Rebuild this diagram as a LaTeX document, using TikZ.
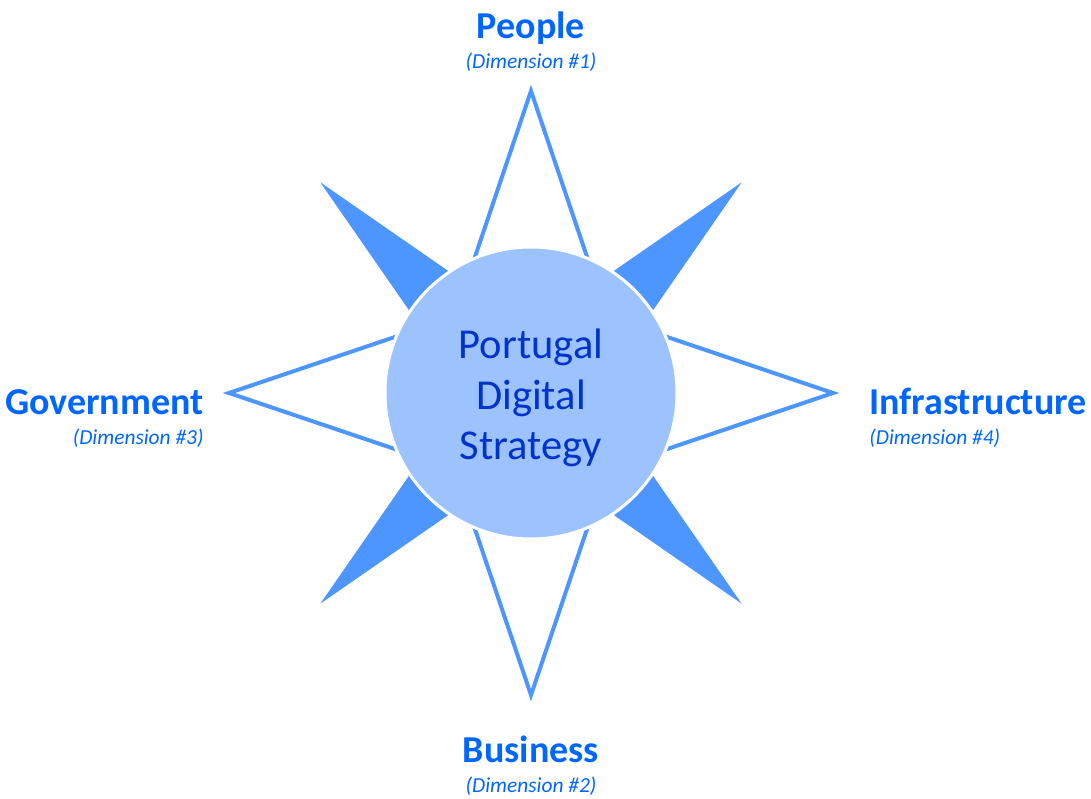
\documentclass[tikz,border=0pt]{standalone}
\usepackage{fontspec}
\setmainfont{Carlito}
\usepackage{tikz}
\definecolor{rayblue}{RGB}{77,150,255}
\definecolor{corefill}{RGB}{157,195,255}
\definecolor{coretext}{RGB}{0,51,204}
\definecolor{dimblue}{RGB}{0,102,255}

\begin{document}
\begin{tikzpicture}[x=0.5pt, y=0.5pt,
    dimtitle/.style={font=\fontsize{19}{21}\selectfont\bfseries, text=dimblue, inner sep=0pt},
    dimsub/.style={font=\fontsize{10.7}{12}\selectfont\itshape, text=dimblue, inner sep=0pt}]
    % Page size
    \useasboundingbox (-531,-405) rectangle (560,393);

    % Outlined kites (four dimensions)
    \foreach \a in {0,90,180,270}
        \draw[rayblue, line width=2pt, fill=white] (\a:302) -- (\a+90:102) -- (\a-90:102) -- cycle;

    % Filled spikes in between
    \foreach \a in {45,135,225,315}
        \fill[rayblue] (\a:298) -- (\a+90:54) -- (\a-90:54) -- cycle;

    % Central circle
    \node[circle, minimum size=146pt, fill=corefill, draw=white, line width=1.5pt,
          text=coretext, align=center, font=\fontsize{21.3}{25.25}\selectfont] (core) at (0,0)
        {\raisebox{-2.5pt}[\height][\depth]{\parbox{100pt}{\centering Portugal\\Digital\\Strategy}}};

    % Dimension labels
    \node[dimtitle, anchor=base] (people) at (0,354) {People};
    \node[dimsub, anchor=base] (people sub) at ([yshift=-15pt]people.base) {(Dimension \#1)};

    \node[dimtitle, anchor=base] (business) at (0,-369) {Business};
    \node[dimsub, anchor=base] (business sub) at ([yshift=-15pt]business.base) {(Dimension \#2)};

    \node[dimtitle, anchor=base east] (government) at (-327,-21) {Government};
    \node[dimsub, anchor=base east] (government sub) at ([yshift=-15pt]government.base east) {(Dimension \#3)};

    \node[dimtitle, anchor=base west] (infrastructure) at (338,-21) {Infrastructure};
    \node[dimsub, anchor=base west] (infrastructure sub) at ([yshift=-15pt]infrastructure.base west) {(Dimension \#4)};
\end{tikzpicture}
\end{document}
